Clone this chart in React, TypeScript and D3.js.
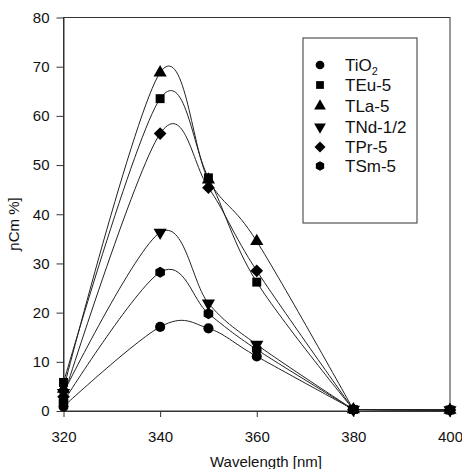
import React, { useEffect, useRef } from 'react'
import * as d3 from 'd3'

// wavelengths on the x axis
const wavelengths = [320, 340, 350, 360, 380, 400]

const seriesNames = ['TiO\u2082', 'TEu-5', 'TLa-5', 'TNd-1/2', 'TPr-5', 'TSm-5']

// values per series, same order as wavelengths
const tio2 = [0.9, 17.1, 16.8, 11.1, 0.3, 0.2]
const teu5 = [5.8, 63.5, 47.4, 26.2, 0.3, 0.2]
const tla5 = [4.5, 68.8, 47.0, 34.5, 0.3, 0.2]
const tnd12 = [3.7, 36.3, 21.9, 13.5, 0.3, 0.2]
const tpr5 = [2.9, 56.4, 45.4, 28.5, 0.3, 0.2]
const tsm5 = [1.9, 28.2, 19.8, 12.5, 0.3, 0.2]

const xTicks = [320, 340, 360, 380, 400]
const yTicks = [0, 10, 20, 30, 40, 50, 60, 70, 80]

// hexagon marker (d3 has none)
const hexagon: d3.SymbolType = {
    draw(context, size) {
        const r = Math.sqrt(size / (1.5 * Math.sqrt(3)))
        for (let i = 0; i < 6; i++) {
            const a = Math.PI / 6 + i * Math.PI / 3
            const px = r * Math.cos(a), py = r * Math.sin(a)
            if (i === 0) context.moveTo(px, py)
            else context.lineTo(px, py)
        }
        context.closePath()
    }
}

const triangleDown: d3.SymbolType = {
    draw(context, size) {
        const y = -Math.sqrt(size / (Math.sqrt(3) * 3))
        context.moveTo(0, -y * 2)
        context.lineTo(-Math.sqrt(3) * y, y)
        context.lineTo(Math.sqrt(3) * y, y)
        context.closePath()
    }
}

// square turned 45 degrees
const diamond: d3.SymbolType = {
    draw(context, size) {
        const r = Math.sqrt(size / 2)
        context.moveTo(0, -r)
        context.lineTo(r, 0)
        context.lineTo(0, r)
        context.lineTo(-r, 0)
        context.closePath()
    }
}

export default function App() {
    const ref = useRef<SVGSVGElement>(null)

    useEffect(() => {
        const svg = d3.select(ref.current!)
        svg.selectAll('*').remove()

        const font = 'Liberation Sans, Arial, sans-serif'
        const left = 63.5, right = 450, top = 17.5, bottom = 411

        const x = d3.scaleLinear().domain([320, 400]).range([left, right])
        const y = d3.scaleLinear().domain([0, 80]).range([bottom, top])

        const all = [tio2, teu5, tla5, tnd12, tpr5, tsm5]
        const symbols: d3.SymbolType[] = [d3.symbolCircle, d3.symbolSquare, d3.symbolTriangle, triangleDown, diamond, hexagon]
        const sizes = [80, 80, 75, 75, 80, 80]

        // frame
        svg.append('rect')
            .attr('x', left).attr('y', top)
            .attr('width', right - left).attr('height', bottom - top)
            .attr('fill', 'none').attr('stroke', '#333').attr('stroke-width', 1)

        // x axis
        const xAxis = svg.append('g')
            .attr('transform', `translate(0,${bottom})`)
            .call(d3.axisBottom(x).tickValues(xTicks).tickSize(6).tickSizeOuter(0).tickPadding(14))
        xAxis.select('.domain').attr('stroke', '#333')
        xAxis.selectAll('line').attr('stroke', '#333')
        xAxis.selectAll('text').attr('font-family', font).attr('font-size', 15).attr('fill', '#111')

        const yAxis = svg.append('g')
            .attr('transform', `translate(${left},0)`)
            .call(d3.axisLeft(y).tickValues(yTicks).tickSize(7).tickSizeOuter(0).tickPadding(7))
        yAxis.select('.domain').attr('stroke', '#333')
        yAxis.selectAll('line').attr('stroke', '#333')
        yAxis.selectAll('text').attr('font-family', font).attr('font-size', 15).attr('fill', '#111')

        svg.append('text')
            .attr('x', 266).attr('y', 467)
            .attr('text-anchor', 'middle')
            .attr('font-family', font).attr('font-size', 15).attr('fill', '#111')
            .text('Wavelength [nm]')

        svg.append('text')
            .attr('transform', 'translate(19,224) rotate(-90)')
            .attr('text-anchor', 'middle')
            .attr('font-family', font).attr('font-size', 15).attr('fill', '#111')
            .text('\u0272Cm %]')

        // spline up to 380, then straight on the baseline to 400
        const curve = d3.line<number>()
            .x((_, i) => x(wavelengths[i]))
            .y(d => y(d))
            .curve(d3.curveCatmullRom.alpha(0))
        const straight = d3.line<number>()
            .x((_, i) => x(wavelengths[i + 4]))
            .y(d => y(d))

        all.forEach(vals => {
            svg.append('path')
                .datum(vals.slice(0, 5))
                .attr('d', curve)
                .attr('fill', 'none')
                .attr('stroke', '#222')
                .attr('stroke-width', 1)
            svg.append('path')
                .datum(vals.slice(4))
                .attr('d', straight)
                .attr('fill', 'none')
                .attr('stroke', '#222')
                .attr('stroke-width', 1)
        })

        all.forEach((vals, si) => {
            svg.append('g').selectAll('path')
                .data(vals)
                .join('path')
                .attr('transform', (d, i) => `translate(${x(wavelengths[i])},${y(d)})`)
                .attr('d', d3.symbol().type(symbols[si]).size(sizes[si])())
                .attr('fill', '#000')
        })

        // legend
        const lg = svg.append('g')
        lg.append('rect')
            .attr('x', 303).attr('y', 38).attr('width', 114).attr('height', 185)
            .attr('fill', 'white').attr('stroke', '#333').attr('stroke-width', 1)
        const rowY = [65, 85, 106, 127, 147, 166]
        seriesNames.forEach((name, i) => {
            lg.append('path')
                .attr('transform', `translate(320,${rowY[i]})`)
                .attr('d', d3.symbol().type(symbols[i]).size(60)())
                .attr('fill', '#000')
            const t = lg.append('text')
                .attr('x', 345).attr('y', rowY[i] + 6)
                .attr('font-family', font).attr('font-size', 17).attr('fill', '#111')
            if (i === 0) {
                t.append('tspan').text('TiO')
                t.append('tspan').attr('font-size', 11).attr('dy', 4).text('2')
            } else {
                t.text(name)
            }
        })
    }, [])

    return (
        <svg ref={ref} width={462} height={469} style={{ position: 'absolute', left: 0, top: 0 }}></svg>
    )
}
